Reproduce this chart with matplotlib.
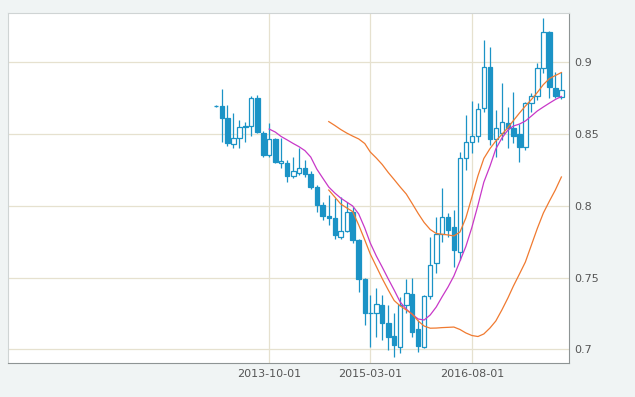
import pandas as pd
import matplotlib
matplotlib.use('Agg')
import matplotlib.pyplot as plt

# monthly candles, 2013-01 .. 2017-11
months = pd.date_range('2013-01-01', periods=59, freq='MS')

opens = [0.8698, 0.8695, 0.8610, 0.8430, 0.8475, 0.8547, 0.8556, 0.8750, 0.8510, 0.8354,
         0.8464, 0.8300, 0.8296, 0.8208, 0.8231, 0.8261, 0.8222, 0.8133, 0.8006, 0.7929,
         0.7913, 0.7785, 0.7827, 0.7959, 0.7762, 0.7488, 0.7252, 0.7250, 0.7308, 0.7181,
         0.7095, 0.7018, 0.7308, 0.7385, 0.7141, 0.7014, 0.7370, 0.7600, 0.7805, 0.7924,
         0.7855, 0.7680, 0.8331, 0.8447, 0.8486, 0.8679, 0.8965, 0.8463, 0.8509, 0.8579,
         0.8540, 0.8500, 0.8412, 0.8718, 0.8767, 0.8958, 0.9209, 0.8819, 0.8760]
highs = [0.8706, 0.8814, 0.8700, 0.8646, 0.8600, 0.8586, 0.8765, 0.8770, 0.8520, 0.8580,
         0.8470, 0.8472, 0.8320, 0.8342, 0.8400, 0.8320, 0.8240, 0.8145, 0.8029, 0.8075,
         0.8052, 0.8063, 0.8029, 0.7994, 0.7770, 0.7500, 0.7378, 0.7425, 0.7380, 0.7309,
         0.7250, 0.7367, 0.7488, 0.7495, 0.7204, 0.7378, 0.7780, 0.7924, 0.8122, 0.7948,
         0.7970, 0.8377, 0.8633, 0.8730, 0.8714, 0.9155, 0.9110, 0.8668, 0.8854, 0.8690,
         0.8795, 0.8570, 0.8725, 0.8784, 0.8997, 0.9307, 0.9215, 0.8934, 0.8934]
lows = [0.8690, 0.8445, 0.8420, 0.8400, 0.8400, 0.8447, 0.8490, 0.8510, 0.8340, 0.8340,
        0.8298, 0.8263, 0.8168, 0.8194, 0.8215, 0.8203, 0.8115, 0.7959, 0.7900, 0.7866,
        0.7767, 0.7767, 0.7820, 0.7740, 0.7400, 0.7170, 0.7018, 0.7088, 0.7065, 0.6995,
        0.6944, 0.6974, 0.7250, 0.7088, 0.6983, 0.7007, 0.7350, 0.7530, 0.7750, 0.7785,
        0.7576, 0.7622, 0.8250, 0.8366, 0.8447, 0.8656, 0.8424, 0.8342, 0.8459, 0.8400,
        0.8436, 0.8307, 0.8389, 0.8656, 0.8737, 0.8923, 0.8749, 0.8749, 0.8742]
closes = [0.8696, 0.8610, 0.8436, 0.8475, 0.8547, 0.8556, 0.8749, 0.8516, 0.8354, 0.8464,
          0.8307, 0.8312, 0.8208, 0.8245, 0.8261, 0.8220, 0.8133, 0.8006, 0.7929, 0.7913,
          0.7797, 0.7827, 0.7959, 0.7762, 0.7488, 0.7250, 0.7254, 0.7316, 0.7185, 0.7088,
          0.7030, 0.7308, 0.7394, 0.7123, 0.7023, 0.7371, 0.7590, 0.7805, 0.7924, 0.7831,
          0.7692, 0.8331, 0.8447, 0.8486, 0.8672, 0.8965, 0.8463, 0.8540, 0.8586, 0.8540,
          0.8486, 0.8412, 0.8714, 0.8767, 0.8958, 0.9209, 0.8826, 0.8767, 0.8807]

# average lines
ma_short = [0.8535, 0.8514, 0.8483, 0.8459, 0.8434, 0.8413, 0.8385, 0.8340, 0.8256, 0.8194,
            0.8131, 0.8089, 0.8054, 0.8026, 0.7999, 0.7943, 0.7845, 0.7741, 0.7650, 0.7573,
            0.7490, 0.7413, 0.7329, 0.7280, 0.7243, 0.7211, 0.7204, 0.7239, 0.7295, 0.7364,
            0.7434, 0.7511, 0.7615, 0.7716, 0.7850, 0.8005, 0.8165, 0.8275, 0.8396, 0.8472,
            0.8528, 0.8556, 0.8570, 0.8591, 0.8626, 0.8661, 0.8689, 0.8716, 0.8741, 0.8762]
ma_mid = [0.8587, 0.8560, 0.8532, 0.8507, 0.8486, 0.8466, 0.8434, 0.8375, 0.8333, 0.8288,
          0.8232, 0.8183, 0.8131, 0.8082, 0.8016, 0.7946, 0.7884, 0.7835, 0.7807, 0.7802,
          0.7797, 0.7790, 0.7817, 0.7915, 0.8061, 0.8210, 0.8330, 0.8398, 0.8452, 0.8497,
          0.8546, 0.8594, 0.8647, 0.8695, 0.8741, 0.8790, 0.8845, 0.8887, 0.8908, 0.8929]
ma_long = [0.8110, 0.8061, 0.8013, 0.7985, 0.7960, 0.7866, 0.7762, 0.7664, 0.7577, 0.7493,
           0.7413, 0.7340, 0.7302, 0.7274, 0.7246, 0.7197, 0.7162, 0.7147, 0.7148, 0.7151,
           0.7153, 0.7155, 0.7138, 0.7114, 0.7096, 0.7089, 0.7107, 0.7148, 0.7197, 0.7274,
           0.7358, 0.7441, 0.7525, 0.7608, 0.7727, 0.7842, 0.7950, 0.8033, 0.8110, 0.8201]

tick_dates = ['2013-10-01', '2015-03-01', '2016-08-01']
y_ticks = [0.7, 0.75, 0.8, 0.85, 0.9]

blue = '#1b93c6'
fig = plt.figure(figsize=(6.35, 3.97), dpi=100, facecolor='#f0f4f4')
ax = fig.add_axes([0.0126, 0.0844, 0.8835, 0.8836])
ax.set_facecolor('white')

# wicks first, bodies on top so hollow candles stay white inside
ax.vlines(months, lows, highs, color=blue, linewidth=0.9, zorder=2)
for d, o, c in zip(months, opens, closes):
    face = 'white' if c >= o else blue
    ax.bar(d, abs(c - o), bottom=min(o, c), width=23, color=face,
           edgecolor=blue, linewidth=0.9, zorder=3)

ax.plot(months[9:], ma_short, color='#c838c8', linewidth=0.9, zorder=4)
ax.plot(months[19:], ma_mid, color='#f07a30', linewidth=0.9, zorder=4)
ax.plot(months[19:], ma_long, color='#f07a30', linewidth=0.9, zorder=4)

ax.set_xlim(pd.Timestamp('2010-02-05'), pd.Timestamp('2017-12-10'))
ax.set_ylim(0.6901, 0.9346)
ax.set_xticks(pd.to_datetime(tick_dates))
ax.set_xticklabels(tick_dates)
ax.set_yticks(y_ticks)
ax.set_yticklabels([f'{v:g}' for v in y_ticks])
ax.yaxis.tick_right()
ax.tick_params(length=0, labelsize=8, colors='#555555')
ax.tick_params(axis='y', pad=4)
ax.tick_params(axis='x', pad=4)
ax.grid(True, color='#e6e1cf', linewidth=0.9, zorder=0)
ax.set_axisbelow(True)

for side in ['left', 'top']:
    ax.spines[side].set_color('#cfd4d4')
for side in ['right', 'bottom']:
    ax.spines[side].set_color('#8e9494')

plt.savefig('out.png', dpi=100, facecolor=fig.get_facecolor())
